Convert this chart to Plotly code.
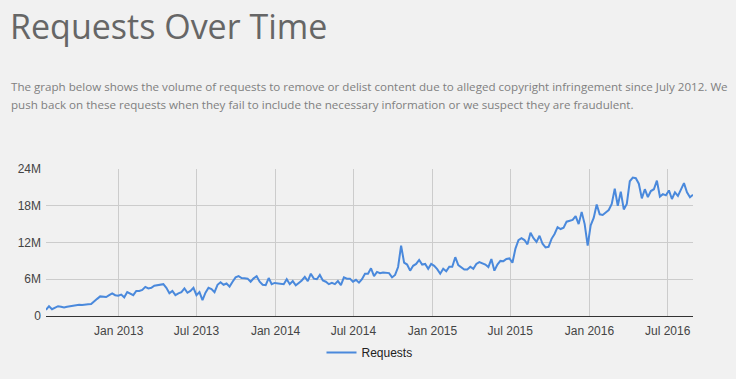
import pandas as pd
import plotly.graph_objects as go

# Weekly takedown requests (millions), starting week of 2012-07-16
start_date = "2012-07-16"
requests_m = [
    1.0, 1.6, 1.1, 1.3, 1.6, 1.5, 1.4, 1.5, 1.6, 1.7,
    1.7, 1.85, 1.8, 1.9, 1.9, 1.95, 2.3, 2.8, 3.2, 3.1,
    3.1, 3.4, 3.7, 3.4, 3.3, 3.5, 3.05, 3.9, 3.6, 3.4,
    4.1, 4.1, 4.25, 4.75, 4.5, 4.6, 4.95, 5.05, 5.05, 5.2,
    4.6, 3.7, 4.1, 3.4, 3.7, 3.9, 4.5, 3.8, 4.1, 4.6,
    3.4, 3.9, 2.6, 3.8, 4.6, 4.4, 3.9, 5.1, 5.5, 5.1,
    5.3, 4.8, 5.6, 6.3, 6.5, 6.2, 6.15, 6.1, 5.6, 6.15,
    6.5, 5.6, 5.1, 5.05, 6.2, 5.2, 5.4, 5.35, 5.25, 5.2,
    6.0, 5.2, 5.7, 5.0, 5.4, 5.8, 6.4, 5.7, 6.9, 6.1,
    6.0, 6.7, 5.8, 5.6, 5.2, 5.4, 5.2, 5.7, 5.05, 6.3,
    6.1, 6.1, 5.6, 5.9, 5.45, 6.0, 6.9, 6.9, 7.8, 6.5,
    7.2, 7.0, 7.1, 7.05, 7.0, 6.3, 6.7, 8.0, 11.5, 8.7,
    8.4, 7.4, 8.2, 8.5, 9.15, 8.4, 8.5, 7.7, 8.5, 8.2,
    7.65, 6.9, 7.7, 7.3, 8.05, 8.05, 9.6, 8.3, 8.0, 7.6,
    7.6, 8.05, 7.7, 8.5, 8.8, 8.6, 8.4, 8.0, 9.3, 7.4,
    8.4, 9.0, 8.95, 9.3, 9.4, 8.7, 11.0, 12.4, 12.7, 12.4,
    11.7, 13.6, 12.7, 12.1, 13.1, 11.8, 11.2, 11.3, 12.6, 13.4,
    14.5, 14.2, 14.4, 15.4, 15.6, 15.7, 16.3, 15.0, 17.0, 15.0,
    11.5, 14.8, 16.0, 18.2, 16.6, 16.5, 16.9, 17.3, 18.3, 20.8,
    18.0, 20.3, 17.4, 18.3, 22.0, 22.6, 22.5, 21.6, 19.2, 20.7,
    19.4, 20.4, 20.7, 22.1, 19.5, 19.9, 19.7, 20.5, 19.1, 20.2,
    19.6, 20.7, 21.7, 20.2, 19.4, 19.8,
]
weeks = pd.date_range(start=start_date, periods=len(requests_m), freq="7D")
requests = [v * 1e6 for v in requests_m]

y_tickvals = [0, 6e6, 12e6, 18e6, 24e6]
y_ticktext = ["0", "6M", "12M", "18M", "24M"]

title_text = "Requests Over Time"
para_line1 = ("The graph below shows the volume of requests to remove or delist content due to "
              "alleged copyright infringement since July 2012. We")
para_line2 = ("push back on these requests when they fail to include the necessary information "
              "or we suspect they are fraudulent.")

BG = "#f1f1f1"
L, R, T, B = 46, 43, 169, 63
W, H = 736, 379
pw, ph = W - L - R, H - T - B

def px_x(x):
    return (x - L) / pw

def px_y(y):
    return (H - B - y) / ph

fig = go.Figure()
fig.add_trace(go.Scatter(
    x=weeks, y=requests, mode="lines", name="Requests",
    line=dict(color="#4a89dc", width=2),
))

fig.update_layout(
    width=W, height=H,
    margin=dict(l=L, r=R, t=T, b=B, pad=0),
    paper_bgcolor=BG, plot_bgcolor=BG,
    font=dict(family="Liberation Sans, Arial", size=12, color="#444"),
    showlegend=True,
    legend=dict(orientation="h", x=0.5, xanchor="center", y=px_y(338), yanchor="top",
                font=dict(size=12, color="#222"), bgcolor="rgba(0,0,0,0)"),
    xaxis=dict(
        range=[weeks[0], weeks[-1]],
        tick0="2013-01-01", dtick="M6", tickformat="%b %Y",
        showgrid=True, gridcolor="#cccccc", gridwidth=1,
        showline=False, zeroline=False, ticks="",
        ticklabelstandoff=6, automargin=False,
        tickfont=dict(size=12, color="#444"),
    ),
    yaxis=dict(
        range=[0, 24e6], tickvals=y_tickvals, ticktext=y_ticktext,
        showgrid=True, gridcolor="#cccccc", gridwidth=1,
        zeroline=True, zerolinecolor="#333333", zerolinewidth=1,
        showline=False, ticks="", ticklabelstandoff=4, automargin=False,
        tickfont=dict(size=12, color="#444"),
    ),
    annotations=[
        dict(text=title_text, xref="paper", yref="paper", x=px_x(8), y=px_y(26),
             xanchor="left", yanchor="middle", showarrow=False,
             font=dict(family="Open Sans", size=34, color="#666666")),
        dict(text=para_line1, xref="paper", yref="paper", x=px_x(9), y=px_y(86),
             xanchor="left", yanchor="middle", showarrow=False,
             font=dict(family="Open Sans", size=11.6, color="#808080")),
        dict(text=para_line2, xref="paper", yref="paper", x=px_x(9), y=px_y(104),
             xanchor="left", yanchor="middle", showarrow=False,
             font=dict(family="Open Sans", size=11.6, color="#808080")),
    ],
)

fig.write_html("out.html")
